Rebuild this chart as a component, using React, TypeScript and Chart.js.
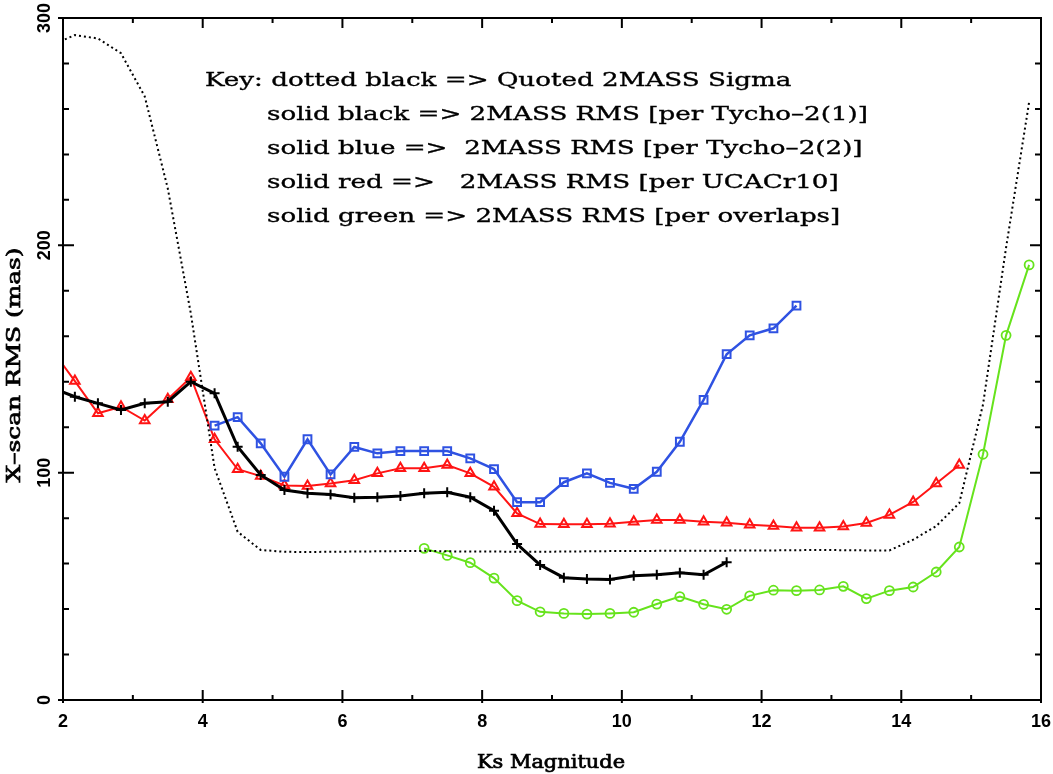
import { useEffect, useRef } from 'react';
import { Chart, registerables, type ChartConfiguration, type Plugin } from 'chart.js';

Chart.register(...registerables);

// Ks magnitude bin centres (1/3 mag bins)
const ksMag = [
  1.83, 2.17, 2.5, 2.83, 3.17, 3.5, 3.83, 4.17, 4.5, 4.83, 5.17, 5.5, 5.83, 6.17, 6.5,
  6.83, 7.17, 7.5, 7.83, 8.17, 8.5, 8.83, 9.17, 9.5, 9.83, 10.17, 10.5, 10.83, 11.17,
  11.5, 11.83, 12.17, 12.5, 12.83, 13.17, 13.5, 13.83, 14.17, 14.5, 14.83, 15.17, 15.5, 15.83,
];

// dotted black: quoted 2MASS sigma (starts at 1.83)
const quotedSigma = [
  288, 292.5, 291, 284.5, 265.5, 225, 170, 102, 74, 66,
  65.2, 65.1, 65.2, 65.3, 65.4, 65.5, 65.6, 65.4, 65.3,
  65.3, 65.2, 65.2, 65.3, 65.4, 65.5, 65.5, 65.6, 65.6,
  65.7, 65.7, 65.8, 65.8, 65.9, 66.0, 65.9, 65.8, 65.8,
  70.5, 76.5, 86.6, 130, 199, 263,
];

// solid black: per Tycho-2(1) (starts at 1.83)
const tycho1Rms = [
  137.5, 133.4, 130.5, 127.6, 130.5, 131.2, 140, 134.9, 111.4, 99, 92.4, 90.9, 90.4, 89,
  89.2, 89.7, 90.9, 91.4, 89.2, 83.3, 68.6, 59.4, 53.8, 53.2, 53, 54.7, 55.1, 56, 55.1, 60.6,
];

// solid blue: per Tycho-2(2) (starts at 4.17)
const tycho2Rms = [
  120.7, 124.4, 112.9, 98.2, 114.7, 99.2, 111.3, 108.5, 109.5, 109.5, 109.5, 106.3, 101.6,
  87, 87, 95.8, 99.7, 95.5, 92.9, 100.4, 113.6, 132, 152.1, 160.4, 163.5, 173.5,
];

// solid red: per UCACr10 (starts at 1.83)
const ucacRms = [
  154.5, 140.3, 126.1, 129, 122.9, 132.3, 142, 114.7, 101.5, 98.5, 94.4, 94.1, 95.2, 96.7,
  99.7, 101.9, 101.9, 103.4, 99.7, 93.8, 82.1, 77.4, 77.3, 77.3, 77.5, 78.4, 79.2, 79.2,
  78.4, 78, 77.1, 76.5, 75.8, 75.8, 76.3, 77.9, 81.4, 87.1, 95.2, 103.4,
];

// solid green: per overlaps (starts at 7.17)
const overlapRms = [
  66.7, 63.6, 60.4, 53.6, 43.7, 38.8, 38.1, 37.8, 38.1, 38.6, 42.2, 45.5, 42.1, 39.9,
  45.8, 48.3, 48.1, 48.4, 50, 44.6, 48.1, 49.7, 56.3, 67.3, 108.1, 160.4, 191.4,
];

const xTickLabels = [2, 4, 6, 8, 10, 12, 14, 16];
const yTickLabels = [0, 100, 200, 300];

const keyLines = [
  'Key: dotted black => Quoted 2MASS Sigma',
  'solid black => 2MASS RMS [per Tycho-2(1)]',
  'solid blue =>  2MASS RMS [per Tycho-2(2)]',
  'solid red =>   2MASS RMS [per UCACr10]',
  'solid green => 2MASS RMS [per overlaps]',
];

const BLUE = '#2f52e2';
const GREEN = '#66e31c';
const RED = '#ff1414';

function pairs(values: number[], firstMag: number) {
  const start = ksMag.indexOf(firstMag);
  return values.map((v, i) => ({ x: ksMag[start + i], y: v }));
}

// draw text squeezed/stretched horizontally, thickened like the plotter font
function fitText(ctx: CanvasRenderingContext2D, text: string, x: number, y: number, sx: number, stroke = 0.4) {
  ctx.save();
  ctx.translate(x, y);
  ctx.scale(sx, 1);
  ctx.fillText(text, 0, 0);
  if (stroke > 0) {
    ctx.lineWidth = stroke;
    ctx.strokeText(text, 0, 0);
  }
  ctx.restore();
}

const pgFrame: Plugin<'line'> = {
  id: 'pgFrame',
  afterDraw(chart) {
    const { ctx, chartArea: a } = chart;
    const xs = chart.scales.x;
    const ys = chart.scales.y;
    ctx.save();
    ctx.strokeStyle = '#000';
    ctx.fillStyle = '#000';
    ctx.lineWidth = 2;
    ctx.strokeRect(a.left, a.top, a.right - a.left, a.bottom - a.top);

    ctx.beginPath();
    for (let v = 2; v <= 16; v += 1) {
      const px = xs.getPixelForValue(v);
      const major = v % 2 === 0;
      const len = major ? 10 : 5;
      ctx.moveTo(px, a.bottom + (major ? 3 : 0));
      ctx.lineTo(px, a.bottom - len);
      ctx.moveTo(px, a.top);
      ctx.lineTo(px, a.top + len);
    }
    for (let v = 0; v <= 300; v += 20) {
      const py = ys.getPixelForValue(v);
      const major = v % 100 === 0;
      const len = major ? 11 : 6;
      ctx.moveTo(a.left - (major ? 5 : 0), py);
      ctx.lineTo(a.left + len, py);
      ctx.moveTo(a.right, py);
      ctx.lineTo(a.right - len, py);
    }
    ctx.stroke();

    // tick labels
    ctx.font = 'bold 18px "Liberation Sans"';
    ctx.textAlign = 'center';
    ctx.textBaseline = 'alphabetic';
    xTickLabels.forEach((v) => {
      ctx.fillText(String(v), xs.getPixelForValue(v), 727);
    });
    yTickLabels.forEach((v) => {
      ctx.save();
      ctx.translate(50, ys.getPixelForValue(v));
      ctx.rotate(-Math.PI / 2);
      ctx.fillText(String(v), 0, 0);
      ctx.restore();
    });

    // axis titles
    ctx.font = '18px "DejaVu Serif"';
    const xt = 'Ks Magnitude';
    fitText(ctx, xt, 551, 768, 148 / ctx.measureText(xt).width, 0.7);
    const yt = 'X\u2013scan RMS (mas)';
    ctx.save();
    ctx.translate(20, 365);
    ctx.rotate(-Math.PI / 2);
    fitText(ctx, yt, 0, 0, 235 / ctx.measureText(yt).width, 0.7);
    ctx.restore();

    // key
    ctx.font = '19px "DejaVu Serif"';
    ctx.textAlign = 'left';
    const sx = 601 / ctx.measureText(keyLines[1].replace(/-/g, '\u2013')).width;
    keyLines.forEach((line, i) => {
      fitText(ctx, line.replace(/-/g, '\u2013'), i === 0 ? 205 : 267, 86 + i * 34, sx, 0.35);
    });
    ctx.restore();
  },
};

export default function App() {
  const canvasRef = useRef<HTMLCanvasElement | null>(null);

  useEffect(() => {
    if (!canvasRef.current) return;
    const config: ChartConfiguration<'line'> = {
      type: 'line',
      data: {
        datasets: [
          {
            label: 'Quoted 2MASS Sigma',
            data: pairs(quotedSigma, 1.83),
            borderColor: '#000',
            borderWidth: 2,
            borderDash: [2, 3],
            pointRadius: 0,
          },
          {
            label: 'per Tycho-2(1)',
            data: pairs(tycho1Rms, 1.83),
            borderColor: '#000',
            borderWidth: 3,
            pointStyle: 'cross',
            pointRadius: 5,
            pointBorderWidth: 2,
            pointBorderColor: '#000',
          },
          {
            label: 'per Tycho-2(2)',
            data: pairs(tycho2Rms, 4.17),
            borderColor: BLUE,
            borderWidth: 2.5,
            pointStyle: 'rect',
            pointRadius: 5.5,
            pointBorderWidth: 2,
            pointBorderColor: BLUE,
            pointBackgroundColor: 'rgba(0,0,0,0)',
          },
          {
            label: 'per UCACr10',
            data: pairs(ucacRms, 1.83),
            borderColor: RED,
            borderWidth: 2,
            pointStyle: 'triangle',
            pointRadius: 5.5,
            pointBorderWidth: 2,
            pointBorderColor: RED,
            pointBackgroundColor: 'rgba(0,0,0,0)',
          },
          {
            label: 'per overlaps',
            data: pairs(overlapRms, 7.17),
            borderColor: GREEN,
            borderWidth: 2,
            pointStyle: 'circle',
            pointRadius: 4.5,
            pointBorderWidth: 1.8,
            pointBorderColor: GREEN,
            pointBackgroundColor: 'rgba(0,0,0,0)',
          },
        ],
      },
      options: {
        responsive: false,
        animation: false,
        devicePixelRatio: 1,
        layout: { padding: { left: 63, top: 18, right: 12, bottom: 74 } },
        elements: { line: { tension: 0 } },
        plugins: { legend: { display: false }, tooltip: { enabled: false } },
        scales: {
          x: { type: 'linear', min: 2, max: 16, display: false },
          y: { type: 'linear', min: 0, max: 300, display: false },
        },
      },
      plugins: [pgFrame],
    };
    const chart = new Chart(canvasRef.current, config);
    return () => chart.destroy();
  }, []);

  return (
    <div style={{ position: 'absolute', left: 0, top: 0, width: 1053, height: 774, background: '#fff' }}>
      <canvas ref={canvasRef} width={1053} height={774} style={{ display: 'block' }} />
    </div>
  );
}
